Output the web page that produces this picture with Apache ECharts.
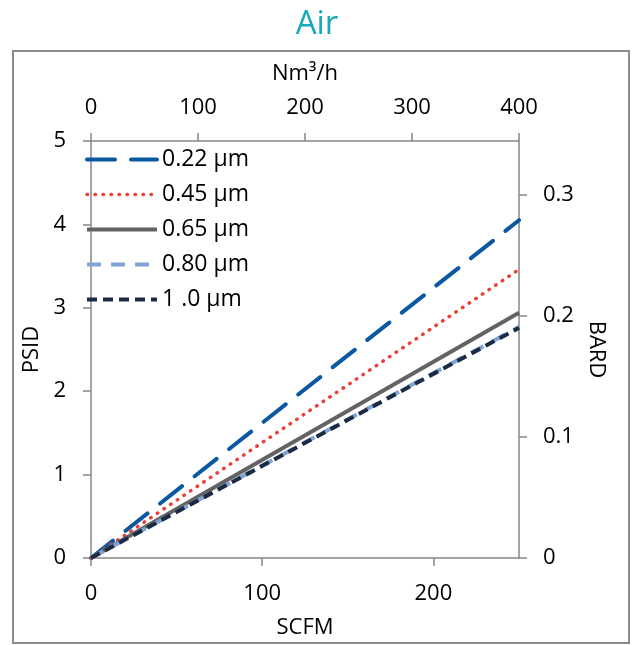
<!DOCTYPE html>
<html>
<head>
<meta charset="utf-8">
<script src="https://cdn.jsdelivr.net/npm/echarts@6/dist/echarts.min.js"></script>
<style>
  html, body { margin: 0; padding: 0; background: #fff; }
  #chart { width: 634px; height: 645px; }
</style>
</head>
<body>
<div id="chart"></div>
<script>
// 数据
var flowScfm = [0, 250];
var psid022 = [0, 4.05];
var psid045 = [0, 3.46];
var psid065 = [0, 2.94];
var psid080 = [0, 2.77];
var psid100 = [0, 2.76];
var seriesNames = ['0.22 µm', '0.45 µm', '0.65 µm', '0.80 µm', '1 .0 µm'];
var scfmTicks = [0, 100, 200];
var bardTicks = [0, 0.1, 0.2, 0.3];

var FONT = 'Open Sans';
var PSI_PER_BAR = 14.5038;

function pairs(xs, ys) {
	var out = [];
	for (var i = 0; i < xs.length; i++) {
		out.push([xs[i], ys[i]]);
	}
	return out;
}

function lineSeries(name, values, color, width, dash, cap) {
	return {
		name: name,
		type: 'line',
		xAxisIndex: 0,
		yAxisIndex: 0,
		symbol: 'none',
		silent: true,
		lineStyle: { color: color, width: width, type: dash, cap: cap || 'butt' },
		itemStyle: { color: color },
		data: pairs(flowScfm, values)
	};
}

var axisGray = '#878787';
var labelStyle = { color: '#000', fontFamily: FONT, fontSize: 22 };
var nameStyle = { color: '#000', fontFamily: FONT, fontSize: 22 };

function axisLine() {
	return { show: true, onZero: false, lineStyle: { color: axisGray, width: 1.5 } };
}

var myChart = echarts.init(document.getElementById('chart'));
var option = {
	animation: false,
	title: {
		text: 'Air',
		left: 'center',
		top: 3,
		textStyle: { color: '#17A8BA', fontFamily: FONT, fontSize: 33, fontWeight: 'normal' }
	},
	graphic: [{
		type: 'rect',
		shape: { x: 13, y: 51, width: 616, height: 592 },
		style: { fill: null, stroke: '#8c8c8c', lineWidth: 2 },
		silent: true
	}],
	legend: {
		left: 80,
		top: 143,
		orient: 'vertical',
		itemWidth: 70,
		itemHeight: 14,
		itemGap: 12,
		itemStyle: { opacity: 0 },
		lineStyle: { width: 'inherit' },
		textStyle: { color: '#000', fontFamily: FONT, fontSize: 23, padding: [0, 0, 0, 0] },
		data: seriesNames
	},
	grid: { left: 91, top: 141, right: 115, bottom: 87, containLabel: false },
	xAxis: [{
		type: 'value',
		position: 'bottom',
		min: 0,
		max: 250,
		name: 'SCFM',
		nameLocation: 'middle',
		nameGap: 59,
		nameTextStyle: nameStyle,
		axisLine: axisLine(),
		axisTick: { show: true, length: 8, customValues: scfmTicks, lineStyle: { color: axisGray, width: 1.5 } },
		axisLabel: Object.assign({ margin: 25, customValues: scfmTicks }, labelStyle),
		splitLine: { show: false }
	}, {
		type: 'value',
		position: 'top',
		min: 0,
		max: 400,
		interval: 100,
		name: 'Nm³/h',
		nameLocation: 'middle',
		nameGap: 56,
		nameTextStyle: nameStyle,
		axisLine: axisLine(),
		axisTick: { show: true, length: 8, lineStyle: { color: axisGray, width: 1.5 } },
		axisLabel: Object.assign({ margin: 22 }, labelStyle),
		splitLine: { show: false }
	}],
	yAxis: [{
		type: 'value',
		position: 'left',
		min: 0,
		max: 5,
		interval: 1,
		name: 'PSID',
		nameLocation: 'middle',
		nameGap: 46,
		nameTextStyle: nameStyle,
		axisLine: axisLine(),
		axisTick: { show: true, length: 8, lineStyle: { color: axisGray, width: 1.5 } },
		axisLabel: Object.assign({ margin: 25 }, labelStyle),
		splitLine: { show: false }
	}, {
		type: 'value',
		position: 'right',
		min: 0,
		max: 5 / PSI_PER_BAR,
		name: 'BARD',
		nameLocation: 'middle',
		nameRotate: -90,
		nameGap: 64,
		nameTextStyle: nameStyle,
		axisLine: axisLine(),
		axisTick: { show: true, length: 8, customValues: bardTicks, lineStyle: { color: axisGray, width: 1.5 } },
		axisLabel: Object.assign({ margin: 24, customValues: bardTicks }, labelStyle),
		splitLine: { show: false }
	}],
	series: [
		lineSeries(seriesNames[0], psid022, '#0A58A0', 4, [28, 16], 'round'),
		lineSeries(seriesNames[1], psid045, '#E8423B', 3.5, [0.5, 7.5], 'round'),
		lineSeries(seriesNames[2], psid065, '#636363', 4, 'solid'),
		lineSeries(seriesNames[3], psid080, '#7FA3D2', 4, [14, 10]),
		lineSeries(seriesNames[4], psid100, '#1B2A45', 4, [10, 6])
	]
};

myChart.setOption(option, true);
</script>
</body>
</html>
